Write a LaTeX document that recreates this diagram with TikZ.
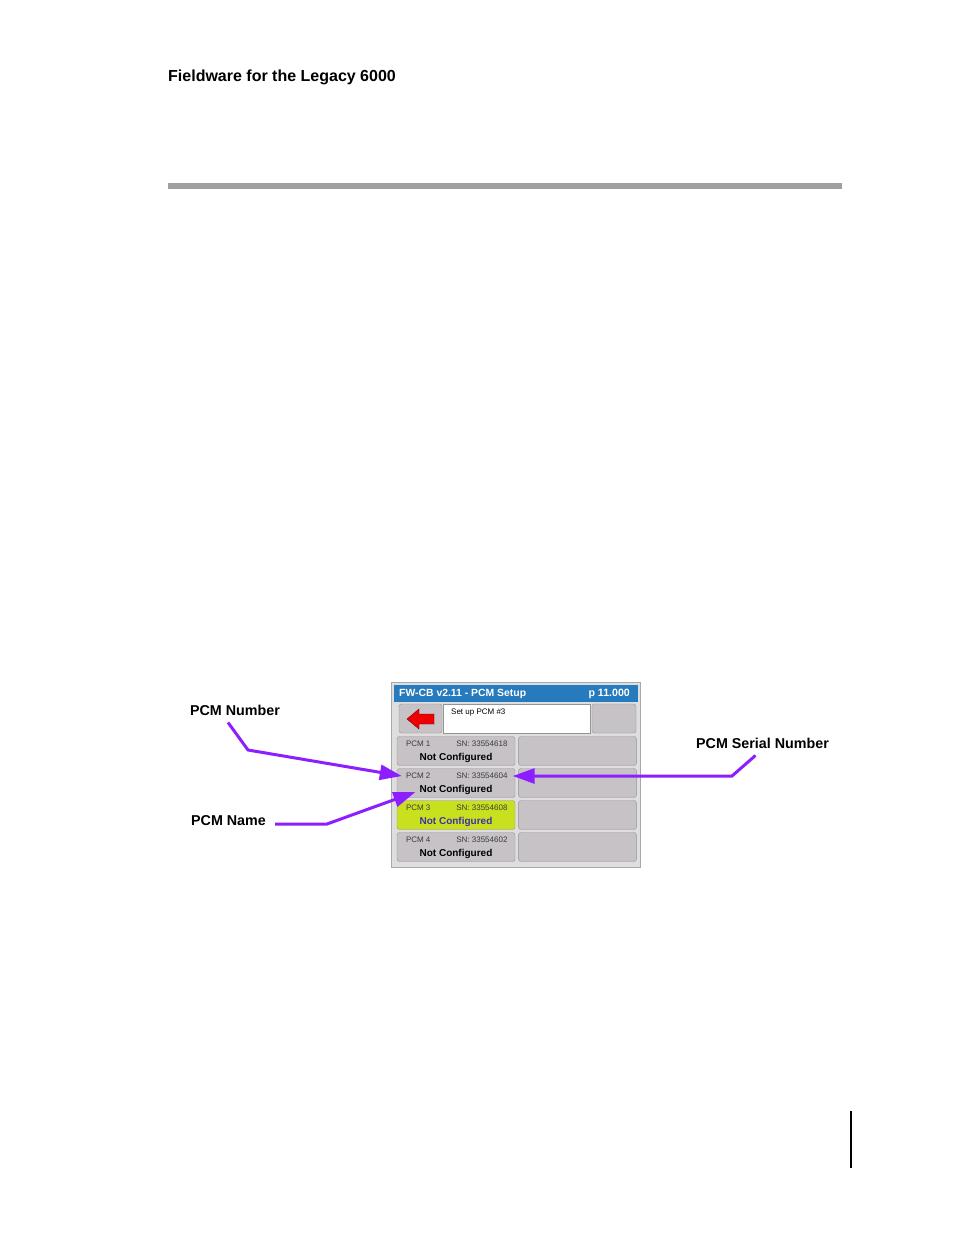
\documentclass[tikz,border=0pt]{standalone}
\usepackage{fontspec}
\setmainfont{Liberation Sans}
\usepackage{xcolor}
\usetikzlibrary{arrows.meta, positioning}

\definecolor{titleblue}{RGB}{38,122,190}
\definecolor{screenbg}{RGB}{222,222,222}
\definecolor{framegray}{RGB}{168,168,168}
\definecolor{btngray}{RGB}{198,194,198}
\definecolor{btnedge}{RGB}{150,146,150}
\definecolor{selgreen}{RGB}{200,224,30}
\definecolor{selblue}{RGB}{60,50,170}
\definecolor{smalltext}{RGB}{60,60,60}
\definecolor{pointviolet}{RGB}{140,30,255}
\definecolor{rulegray}{RGB}{160,160,160}
\definecolor{backred}{RGB}{238,0,0}
\definecolor{backedge}{RGB}{110,0,0}

\begin{document}
\begin{tikzpicture}[x=1pt, y=-1pt,
    callout/.style={font=\bfseries\fontsize{14.3}{16}\selectfont, inner sep=2pt},
    pointer/.style={draw=pointviolet, line width=3pt, -{Triangle[length=22pt, width=15pt]}},
    btn/.style={draw=btnedge, fill=#1, rounded corners=2.5pt, minimum width=118pt, minimum height=29pt, inner sep=0pt},
    small/.style={font=\fontsize{8}{9}\selectfont, text=smalltext, inner sep=0pt},
    pcmname/.style={font=\bfseries\fontsize{10}{11}\selectfont, inner sep=0pt}]
    \useasboundingbox (0,0) rectangle (954,1235);

    \node[anchor=base west, inner sep=0pt, font=\bfseries\fontsize{16}{18}\selectfont] (header) at (168,81) {Fieldware for the Legacy 6000};
    \fill[rulegray] (168,182.5) rectangle (842,188.5);
    \draw[line width=1.3pt] (851,1111) -- (851,1168);

    % screen shot
    \draw[fill=screenbg, draw=framegray, line width=1pt] (391.5,682.5) rectangle (640.5,867.5);
    \node[fill=titleblue, minimum width=244pt, minimum height=17pt, inner sep=0pt] (titlebar) at (516,693.5) {};
    \node[anchor=west, inner sep=0pt, text=white, font=\bfseries\fontsize{10.4}{12}\selectfont] (scrtitle) at (399,694) {FW-CB v2.11 - PCM Setup};
    \node[anchor=east, inner sep=0pt, text=white, font=\bfseries\fontsize{10.6}{12}\selectfont] (page) at (630,694) {p 11.000};

    \node[btn=btngray, minimum width=43pt] (back) at (420.5,718.5) {};
    \filldraw[fill=backred, draw=backedge] (407,719) -- (419,709) -- (419,714) -- (434,714) -- (434,724) -- (419,724) -- (419,729) -- cycle;
    \node[draw=btnedge, fill=white, minimum width=147pt, minimum height=29pt, inner sep=0pt] (msgbox) at (516.5,718.5) {};
    \node[small, anchor=west, text=black] (msg) at (451,713) {Set up PCM \#3};
    \node[btn=btngray, minimum width=44pt] (extra) at (614,718.5) {};

    \foreach \i/\sn/\bg/\fg in {1/33554618/btngray/black, 2/33554604/btngray/black, 3/33554608/selgreen/selblue, 4/33554602/btngray/black} {
        \node[btn=\bg] (row\i) at (456,{719+32*\i}) {};
        \node[btn=btngray] (slot\i) [right=3pt of row\i] {};
        \node[small, anchor=west] (num\i) at ([xshift=9pt, yshift=7pt]row\i.west) {PCM \i};
        \node[small, anchor=east] (sn\i) at ([xshift=-7.5pt, yshift=7pt]row\i.east) {SN: \sn};
        \node[pcmname, text=\fg] (name\i) at ([yshift=-7pt]row\i.center) {Not Configured};
    }

    \node[callout] (lblnum) at (235,710) {PCM Number};
    \node[callout] (lblname) at (228.5,821) {PCM Name};
    \node[callout] (lblsn) at (762.5,743) {PCM Serial Number};
    \coordinate (bendnum) at (248,750);
    \coordinate (bendname) at (327,824);
    \coordinate (bendsn) at (732,776);

    \draw[pointer] ([xshift=-7pt, yshift=-5pt]lblnum.south) -- (bendnum) -- ([xshift=-4pt]num2.west);
    \draw[pointer] ([xshift=7pt, yshift=-3pt]lblname.east) -- (bendname) -- ([xshift=-4pt, yshift=-2pt]name2.west);
    \draw[pointer] ([xshift=-7pt, yshift=-5pt]lblsn.south) -- (bendsn) -- ([xshift=5pt]sn2.east);
\end{tikzpicture}
\end{document}
